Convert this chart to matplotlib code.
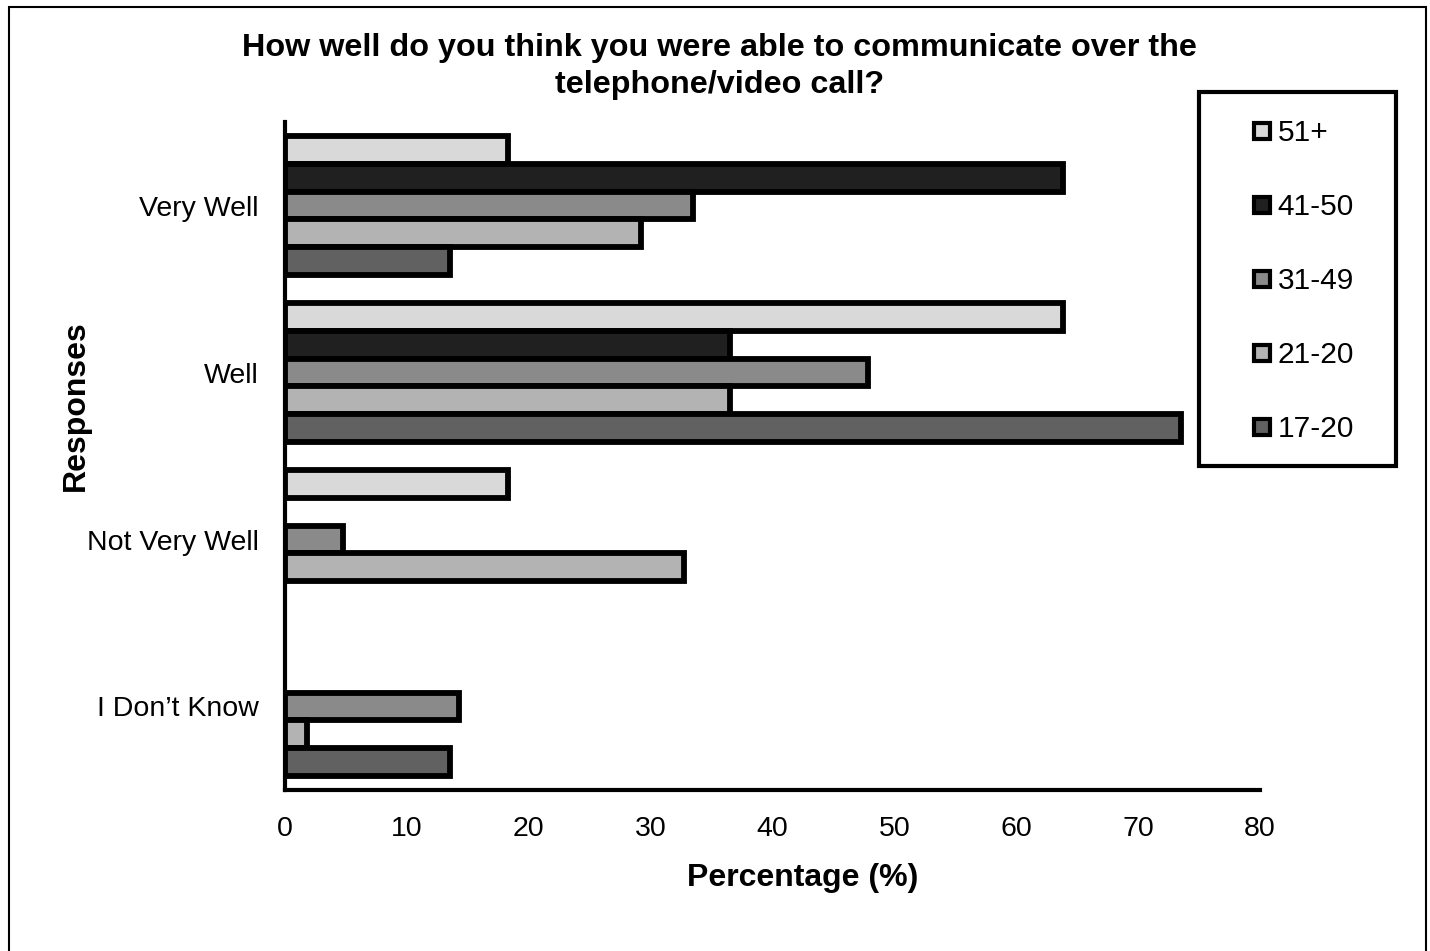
import matplotlib
matplotlib.use("Agg")
import matplotlib.pyplot as plt
from matplotlib.lines import Line2D
from matplotlib.patches import Rectangle
import numpy as np

# Respostas (de cima para baixo) e faixas etárias
respostas = ["Very Well", "Well", "Not Very Well", "I Don\u2019t Know"]
faixas = ["51+", "41-50", "31-49", "21-20", "17-20"]

# Percentual por faixa etária, na ordem de "respostas"
v_51_mais = [18.3, 63.8, 18.3, 0.0]
v_41_50 = [63.8, 36.5, 0.0, 0.0]
v_31_49 = [33.5, 47.8, 4.8, 14.3]
v_21_20 = [29.2, 36.5, 32.7, 1.8]
v_17_20 = [13.5, 73.5, 0.0, 13.5]

valores = [v_51_mais, v_41_50, v_31_49, v_21_20, v_17_20]
cores = ["#d9d9d9", "#202020", "#8a8a8a", "#b3b3b3", "#616161"]

plt.rcParams["font.family"] = ["Liberation Sans", "DejaVu Sans"]

fig = plt.figure(figsize=(14.30, 9.51), dpi=100)
ax = fig.add_axes([0.1993, 0.1693, 0.6818, 0.7024])

altura = 0.167
y_base = np.arange(len(respostas))

for j, (vals, cor) in enumerate(zip(valores, cores)):
    vals = np.array(vals)
    y = y_base + (j - 2) * altura
    mask = vals > 0  # barras de valor zero não aparecem
    ax.barh(y[mask], vals[mask], height=altura, color=cor,
            edgecolor="black", linewidth=4.2, zorder=3)

ax.set_xlim(0, 80)
ax.set_ylim(3.5, -0.5)
ax.set_xticks(np.arange(0, 81, 10))
ax.set_yticks(y_base)
ax.set_yticklabels(respostas)
ax.tick_params(axis="both", length=0, labelsize=20.5)
ax.tick_params(axis="x", pad=19)
ax.tick_params(axis="y", pad=19)

for lado in ["top", "right"]:
    ax.spines[lado].set_visible(False)
for lado in ["left", "bottom"]:
    ax.spines[lado].set_linewidth(3)
    ax.spines[lado].set_zorder(4)

ax.set_xlabel("Percentage (%)", fontsize=23, fontweight="bold")
ax.xaxis.set_label_coords(0.531, -0.132)
ax.xaxis.label.set_va("center")
ax.set_ylabel("Responses", fontsize=23, fontweight="bold")
ax.yaxis.set_label_coords(-0.215, 0.576)
ax.yaxis.label.set_va("center")

fig.text(0.503, 0.930,
         "How well do you think you were able to communicate over the\ntelephone/video call?",
         ha="center", va="center", fontsize=23.3, fontweight="bold", linespacing=1.27)

# Legenda com caixa desenhada à parte
handles = [Line2D([], [], marker="s", linestyle="none", markersize=11.5,
                  markerfacecolor=c, markeredgecolor="black", markeredgewidth=3)
           for c in cores]
fig.legend(handles, faixas, loc="center", bbox_to_anchor=(1302 / 1430, 1 - 281 / 951),
           frameon=False, fontsize=21.5, handlelength=0.8, handletextpad=0.14,
           labelspacing=1.54)
fig.patches.append(Rectangle((1199 / 1430, 1 - 466 / 951), 197 / 1430, 374 / 951,
                             transform=fig.transFigure, fill=False,
                             edgecolor="black", linewidth=3))

# Moldura externa
fig.patches.append(Rectangle((9 / 1430, -0.05), 1417 / 1430, 1 - 7 / 951 + 0.05,
                             transform=fig.transFigure, fill=False,
                             edgecolor="black", linewidth=1.5, clip_on=False))

fig.savefig("out.png", dpi=100, facecolor="white")
